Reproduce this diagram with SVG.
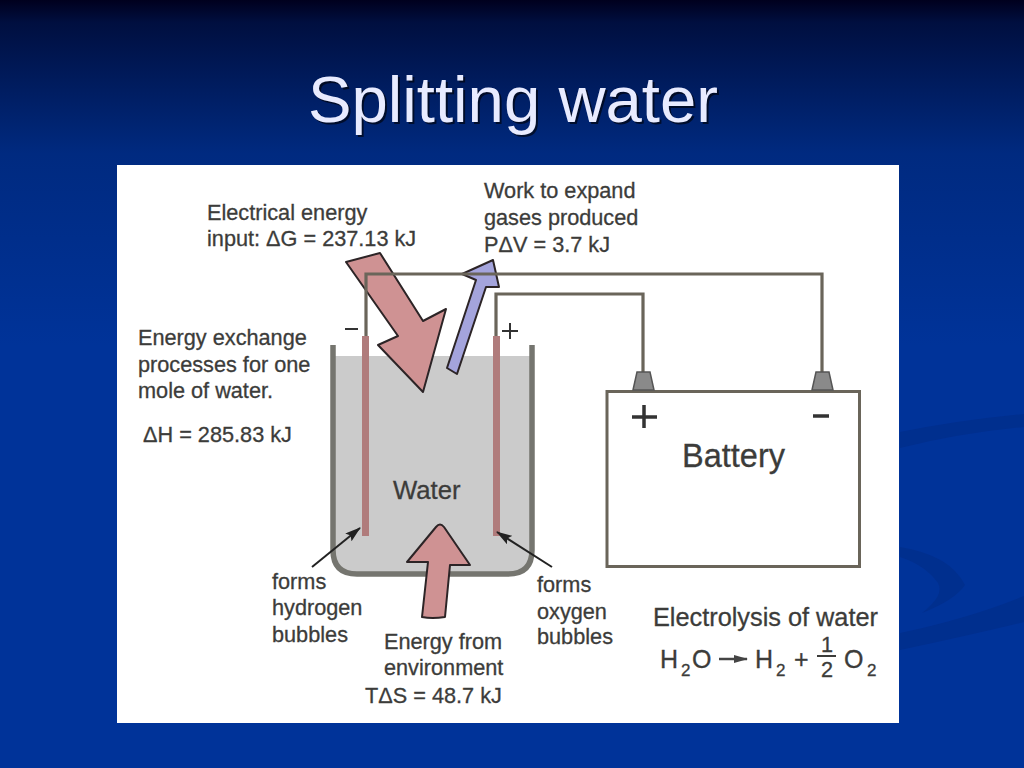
<svg xmlns="http://www.w3.org/2000/svg" width="1024" height="768" viewBox="0 0 1024 768">
<defs>
<linearGradient id="bg" x1="0" y1="0" x2="0" y2="1"><stop offset="0" stop-color="#00001e"/><stop offset="0.03" stop-color="#000f40"/><stop offset="0.2" stop-color="#002a80"/><stop offset="0.45" stop-color="#003399"/><stop offset="1" stop-color="#003399"/></linearGradient>
<marker id="ah" markerWidth="16" markerHeight="10" refX="15" refY="5" orient="auto" markerUnits="userSpaceOnUse"><path d="M0 0L16 5L0 10L3 5Z" fill="#222"/></marker>
<marker id="ah2" markerWidth="14" markerHeight="8" refX="13" refY="4" orient="auto" markerUnits="userSpaceOnUse"><path d="M0 0L14 4L0 8Z" fill="#444"/></marker>
</defs>
<style>
text{font-family:"Liberation Sans",Arial,sans-serif;fill:#3c3c3a;stroke:#3c3c3a;stroke-width:.3;font-size:21.7px}
.b{stroke:#2c2426;stroke-width:2;stroke-linejoin:round}
.w{fill:none;stroke:#6a655a;stroke-width:3.2}
.t{font-size:65.3px;stroke:none}
.s{font-size:17px}
.e{font-size:25px}
</style>
<rect width="1024" height="768" fill="url(#bg)"/>
<g id="swoosh" fill="#002f8e">
<path d="M900 432Q960 420 1024 414V427Q960 433 900 448Z"/>
<path d="M900 547Q950 555 965 585Q955 600 922 613Q945 595 938 583Q925 565 900 557Z"/>
<path d="M900 633Q970 618 1024 596V622Q970 635 900 650Z"/>
</g>
<text id="title-shadow" class="t" x="515" y="124" text-anchor="middle" style="fill:#000;opacity:.6">Splitting water</text>
<text id="title" class="t" x="513" y="122" text-anchor="middle" style="fill:#e8ebff">Splitting water</text>
<rect id="panel" x="117" y="165" width="782" height="558" fill="#fff"/>
<g id="beaker">
<path d="M333 356H532V550Q532 574 508 574H357Q333 574 333 550Z" fill="#cbcbcb"/>
<path d="M333 345V550Q333 574 357 574H508Q532 574 532 550V345" fill="none" stroke="#75756f" stroke-width="5.5"/>
</g>
<g id="electrodes" fill="#b07c7c"><rect x="362" y="336" width="7" height="200"/><rect x="493" y="336" width="7" height="200"/></g>
<g id="arrows">
<path class="b" id="arrow-electrical" d="M346 262L380 253L423 321L446 309L423 392L378 345L398 336Z" fill="#cf9293"/>
<path class="b" id="arrow-work" d="M447 368L476 280L462 274L493 260L499 287L486 287L457 374Z" fill="#a4a4dc"/>
<path class="b" id="arrow-environment" d="M422 617L428 562L407 562L436 527Q440 522 444 527L470 565L450 565L445 617Q432 619 422 617Z" fill="#cf9293"/>
</g>
<g id="connectors">
<path class="w" d="M366 336V274H822V372"/>
<path class="w" d="M496 336V294H643V372"/>
<path d="M312 567L360 528" stroke="#222" stroke-width="2" marker-end="url(#ah)" fill="none"/>
<path d="M552 567L497 532" stroke="#222" stroke-width="2" marker-end="url(#ah)" fill="none"/>
<path d="M719 659H747" stroke="#444" stroke-width="2.5" marker-end="url(#ah2)" fill="none"/>
</g>
<g id="battery">
<rect x="607" y="391.500" width="252.500" height="175" fill="#fff" stroke="#6a655a" stroke-width="3"/>
<path d="M633 390L637 372H650L654 390Z" fill="#8a8a8a" stroke="#555" stroke-width="1.5"/>
<path d="M812 390L816 372H829L833 390Z" fill="#8a8a8a" stroke="#555" stroke-width="1.5"/>
<path d="M644 405V428M632 417H657M813 416H829" stroke="#333" stroke-width="3.500" fill="none"/>
<text x="682" y="467" style="font-size:32.500px">Battery</text>
</g>
<g id="labels">
<text x="207" y="220">Electrical energy</text>
<text x="207" y="246">input: ΔG = 237.13 kJ</text>
<text x="484" y="198">Work to expand</text>
<text x="484" y="225">gases produced</text>
<text x="484" y="252">PΔV = 3.7 kJ</text>
<text x="138" y="345">Energy exchange</text>
<text x="138" y="372">processes for one</text>
<text x="138" y="398">mole of water.</text>
<text x="143" y="442">ΔH = 285.83 kJ</text>
<path d="M345 329H358M502 331H518M510 323V339" stroke="#333" stroke-width="2" fill="none"/>
<text x="393" y="499" style="font-size:25.700px">Water</text>
<text x="272" y="589">forms</text>
<text x="272" y="615">hydrogen</text>
<text x="272" y="642">bubbles</text>
<text x="537" y="592">forms</text>
<text x="537" y="619">oxygen</text>
<text x="537" y="644">bubbles</text>
<text x="384" y="649">Energy from</text>
<text x="384" y="675">environment</text>
<text x="365" y="703">TΔS = 48.7 kJ</text>
<text x="653" y="626" style="font-size:25.300px">Electrolysis of water</text>
<text class="e" x="660" y="668">H</text><text class="s" x="681" y="676">2</text><text class="e" x="692" y="668">O</text>
<text class="e" x="755" y="668">H</text><text class="s" x="776" y="676">2</text><text class="e" x="794" y="668">+</text>
<text x="821" y="652">1</text>
<path d="M817 656H836" stroke="#3c3c3a" stroke-width="2"/>
<text x="821" y="677">2</text>
<text class="e" x="844" y="668">O</text><text class="s" x="867" y="676">2</text>
</g>
</svg>
